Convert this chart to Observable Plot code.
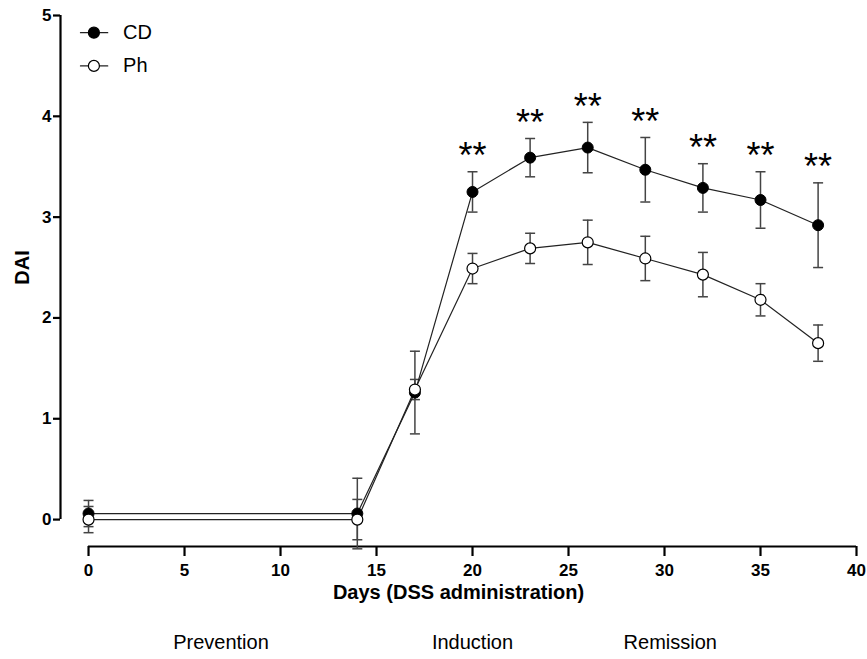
<!DOCTYPE html>
<html>
<head>
<meta charset="utf-8">
<script src="https://cdn.jsdelivr.net/npm/d3@7"></script>
<script src="https://cdn.jsdelivr.net/npm/@observablehq/plot@0.6"></script>
<style>
  body { margin: 0; background: #fff; }
  #chart { width: 867px; height: 659px; }
  svg { font-family: Arial, "Liberation Sans", sans-serif; }
</style>
</head>
<body>
<div id="chart"></div>
<script>
// ---- data ----
const days = [0, 14, 17, 20, 23, 26, 29, 32, 35, 38];
const cdMean = [0.06, 0.06, 1.26, 3.25, 3.59, 3.69, 3.47, 3.29, 3.17, 2.92];
const cdSem  = [0.13, 0.35, 0.41, 0.20, 0.19, 0.25, 0.32, 0.24, 0.28, 0.42];
const phMean = [0.00, 0.00, 1.29, 2.49, 2.69, 2.75, 2.59, 2.43, 2.18, 1.75];
const phSem  = [0.13, 0.20, 0.10, 0.15, 0.15, 0.22, 0.22, 0.22, 0.16, 0.18];
const sigDays = [20, 23, 26, 29, 32, 35, 38];
const sigLabel = "**";
const xTicks = [0, 5, 10, 15, 20, 25, 30, 35, 40];
const yTicks = [0, 1, 2, 3, 4, 5];
const phases = ["Prevention", "Induction", "Remission"];
const phaseX = [6.9, 20, 30.3];
const seriesNames = ["CD", "Ph"];
const legendY = [4.83, 4.50];
const legendLineX = [-0.42, 1.0];
const legendDotX = 0.28;
const legendTextX = 1.8;
const xLabel = "Days (DSS administration)";
const yLabel = "DAI";

// ---- build rows ----
const cd = days.map((d, i) => ({day: d, v: cdMean[i], lo: cdMean[i] - cdSem[i], hi: cdMean[i] + cdSem[i]}));
const ph = days.map((d, i) => ({day: d, v: phMean[i], lo: phMean[i] - phSem[i], hi: phMean[i] + phSem[i]}));
const sig = sigDays.map(d => { const r = cd.find(c => c.day === d); return {day: d, y: r.hi}; });
const legend = seriesNames.map((n, i) => ({name: n, y: legendY[i], fill: i === 0 ? "black" : "white"}));
const legendLines = legend.flatMap(l => legendLineX.map(x => ({name: l.name, x, y: l.y})));

const capSymbol = {
  draw(ctx, size) {
    const w = Math.sqrt(size / Math.PI);
    ctx.moveTo(-w, 0);
    ctx.lineTo(w, 0);
  }
};

const xMin = -1.46, yMin = -0.267;
const errColor = "#444";
const lineColor = "#222";
const tickFont = {fontSize: 17, fontWeight: "bold", fill: "black"};

const chart = Plot.plot({
  width: 867,
  height: 659,
  marginLeft: 60,
  marginRight: 11,
  marginTop: 15,
  marginBottom: 113,
  x: {domain: [xMin, 40], axis: null},
  y: {domain: [yMin, 5], axis: null},
  style: {fontFamily: "Arial, 'Liberation Sans', sans-serif", background: "white"},
  marks: [
    // axes lines and ticks
    Plot.ruleX([xMin], {y1: 0, y2: 5, stroke: "black", strokeWidth: 2.2}),
    Plot.ruleY([yMin], {x1: 0, x2: 40, stroke: "black", strokeWidth: 2.2}),
    Plot.ruleX(xTicks, {x: d => d, y1: yMin, y2: yMin, insetBottom: -10, stroke: "black", strokeWidth: 2.2}),
    Plot.ruleY(yTicks, {y: d => d, x1: xMin, x2: xMin, insetLeft: -7, stroke: "black", strokeWidth: 2.2}),
    Plot.text(xTicks, {x: d => d, y: yMin, dy: 24, text: d => String(d), ...tickFont}),
    Plot.text(yTicks, {x: xMin, y: d => d, dx: -9, textAnchor: "end", text: d => String(d), ...tickFont}),
    Plot.text([xLabel], {frameAnchor: "bottom", dy: 52, fontSize: 20, fontWeight: "bold", fill: "black"}),
    Plot.text([yLabel], {x: xMin, y: 2.5, dx: -38, rotate: -90, fontSize: 20, fontWeight: "bold", fill: "black"}),
    Plot.text(phases, {x: (d, i) => phaseX[i], frameAnchor: "bottom", dy: 102, fontSize: 20, fill: "black"}),
    // error bars
    Plot.ruleX(cd, {x: "day", y1: "lo", y2: "hi", stroke: errColor, strokeWidth: 1.5}),
    Plot.dot(cd, {x: "day", y: "lo", symbol: capSymbol, r: 5, stroke: errColor, strokeWidth: 1.5}),
    Plot.dot(cd, {x: "day", y: "hi", symbol: capSymbol, r: 5, stroke: errColor, strokeWidth: 1.5}),
    Plot.ruleX(ph, {x: "day", y1: "lo", y2: "hi", stroke: errColor, strokeWidth: 1.5}),
    Plot.dot(ph, {x: "day", y: "lo", symbol: capSymbol, r: 5, stroke: errColor, strokeWidth: 1.5}),
    Plot.dot(ph, {x: "day", y: "hi", symbol: capSymbol, r: 5, stroke: errColor, strokeWidth: 1.5}),
    // lines
    Plot.line(cd, {x: "day", y: "v", stroke: lineColor, strokeWidth: 1.2}),
    Plot.line(ph, {x: "day", y: "v", stroke: lineColor, strokeWidth: 1.2}),
    // points
    Plot.dot(cd, {x: "day", y: "v", r: 5.5, fill: "black", stroke: "black", strokeWidth: 1}),
    Plot.dot(ph, {x: "day", y: "v", r: 5.5, fill: "white", stroke: "black", strokeWidth: 1.2}),
    // significance
    Plot.text(sig, {x: "day", y: "y", text: () => sigLabel, dy: -15, fontSize: 36, fill: "black"}),
    // legend
    Plot.line(legendLines, {x: "x", y: "y", z: "name", stroke: lineColor, strokeWidth: 1.2}),
    Plot.dot(legend, {x: () => legendDotX, y: "y", r: 5.5, fill: "fill", stroke: "black", strokeWidth: 1.2}),
    Plot.text(legend, {x: () => legendTextX, y: "y", text: "name", textAnchor: "start", fontSize: 20, fill: "black"})
  ]
});
document.getElementById("chart").appendChild(chart);
</script>
</body>
</html>
